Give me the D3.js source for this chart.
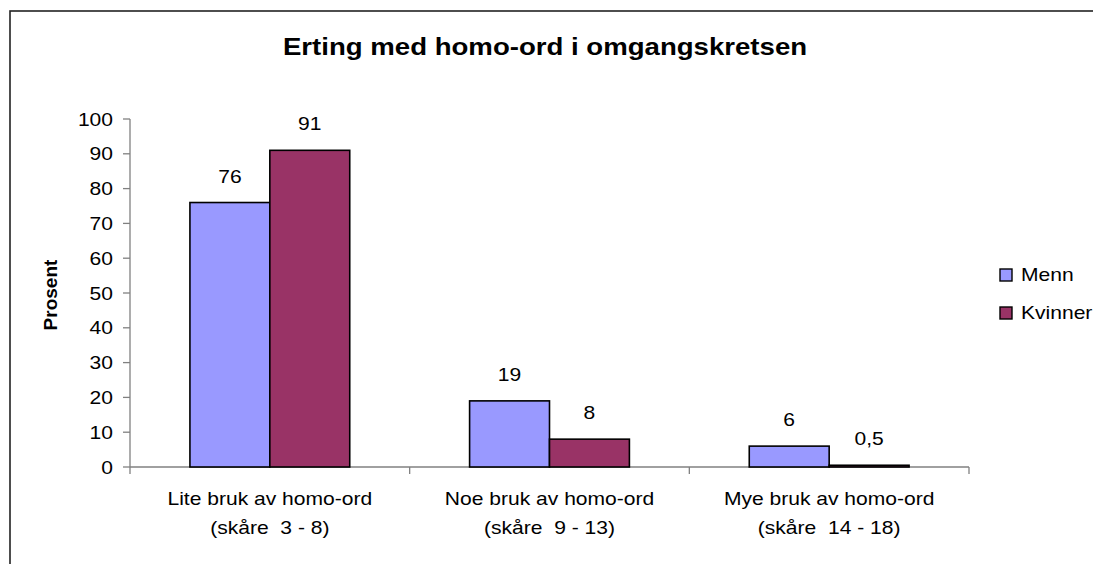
<!DOCTYPE html>
<html>
<head>
<meta charset="utf-8">
<script src="https://cdn.jsdelivr.net/npm/d3@7"></script>
<style>
html,body{margin:0;padding:0;background:#fff;}
svg{display:block;}
text{font-family:"Liberation Sans",Arial,sans-serif;fill:#000;white-space:pre;}
</style>
</head>
<body>
<svg id="c" width="1093" height="564"></svg>
<script>
const title = "Erting med homo-ord i omgangskretsen";
const yTitle = "Prosent";
const categories = [
  ["Lite bruk av homo-ord", "(skåre  3 - 8)"],
  ["Noe bruk av homo-ord", "(skåre  9 - 13)"],
  ["Mye bruk av homo-ord", "(skåre  14 - 18)"]
];
const seriesNames = ["Menn", "Kvinner"];
const menn = [76, 19, 6];
const kvinner = [91, 8, 0.5];
const mennLabels = ["76", "19", "6"];
const kvinnerLabels = ["91", "8", "0,5"];
const yTicks = [0, 10, 20, 30, 40, 50, 60, 70, 80, 90, 100];
const colors = ["#9999FF", "#993366"];

const svg = d3.select("#c");
const SX = 1.17;

function stext(g, x, y, str, opts) {
  opts = opts || {};
  const t = g.append("text")
    .attr("transform", `translate(${x},${y}) scale(${opts.sx || SX},1)`)
    .attr("text-anchor", opts.anchor || "middle")
    .attr("font-size", opts.size || 18)
    .attr("xml:space", "preserve")
    .text(str);
  if (opts.bold) t.attr("font-weight", "bold");
  return t;
}

// frame
svg.append("rect").attr("x", 10).attr("y", 11).attr("width", 1200).attr("height", 700)
  .attr("fill", "none").attr("stroke", "#222").attr("stroke-width", 1.6);

const x0 = d3.scaleBand().domain(d3.range(categories.length)).range([130, 969]).padding(0);
const x1 = d3.scaleBand().domain(seriesNames).range([0, x0.bandwidth()]).paddingInner(0).paddingOuter(0.75);
const y = d3.scaleLinear().domain([0, 100]).range([467, 119]);

// title
stext(svg, 545, 55, title, {size: 23, bold: true, sx: 1.2});

// y axis title
svg.append("text").attr("transform", `translate(57,295) rotate(-90)`)
  .attr("text-anchor", "middle").attr("font-size", 19).attr("font-weight", "bold").text(yTitle);

// y axis
const axisColor = "#808080";
const yAxis = svg.append("g");
yAxis.append("line").attr("x1", 130).attr("x2", 130).attr("y1", y(100)).attr("y2", y(0))
  .attr("stroke", axisColor).attr("stroke-width", 1.3);
yTicks.forEach(v => {
  yAxis.append("line").attr("x1", 123).attr("x2", 130).attr("y1", y(v)).attr("y2", y(v))
    .attr("stroke", axisColor).attr("stroke-width", 1.3);
  stext(yAxis, 113, y(v) + 6.5, String(v), {anchor: "end"});
});

// x axis
const xAxis = svg.append("g");
xAxis.append("line").attr("x1", 130).attr("x2", 969).attr("y1", y(0)).attr("y2", y(0))
  .attr("stroke", axisColor).attr("stroke-width", 1.3);
d3.range(categories.length + 1).forEach(i => {
  const xx = i < categories.length ? x0(i) : x0(categories.length - 1) + x0.bandwidth();
  xAxis.append("line").attr("x1", xx).attr("x2", xx).attr("y1", y(0)).attr("y2", y(0) + 7)
    .attr("stroke", axisColor).attr("stroke-width", 1.3);
});
categories.forEach((c, i) => {
  const cx = x0(i) + x0.bandwidth() / 2;
  stext(xAxis, cx, 505, c[0]);
  stext(xAxis, cx, 534, c[1]);
});

// bars
const data = [menn, kvinner];
const labels = [mennLabels, kvinnerLabels];
seriesNames.forEach((s, si) => {
  const g = svg.append("g");
  data[si].forEach((v, i) => {
    const bx = x0(i) + x1(s);
    g.append("rect").attr("x", bx).attr("y", y(v)).attr("width", x1.bandwidth())
      .attr("height", y(0) - y(v)).attr("fill", colors[si])
      .attr("stroke", "#000").attr("stroke-width", 1.6);
    stext(g, bx + x1.bandwidth() / 2, y(v) - 20, labels[si][i]);
  });
});

// legend
const legY = [269, 307];
seriesNames.forEach((s, si) => {
  svg.append("rect").attr("x", 1000).attr("y", legY[si]).attr("width", 12).attr("height", 12)
    .attr("fill", colors[si]).attr("stroke", "#000").attr("stroke-width", 1.4);
  stext(svg, 1021, legY[si] + 12, s, {anchor: "start"});
});
</script>
</body>
</html>
